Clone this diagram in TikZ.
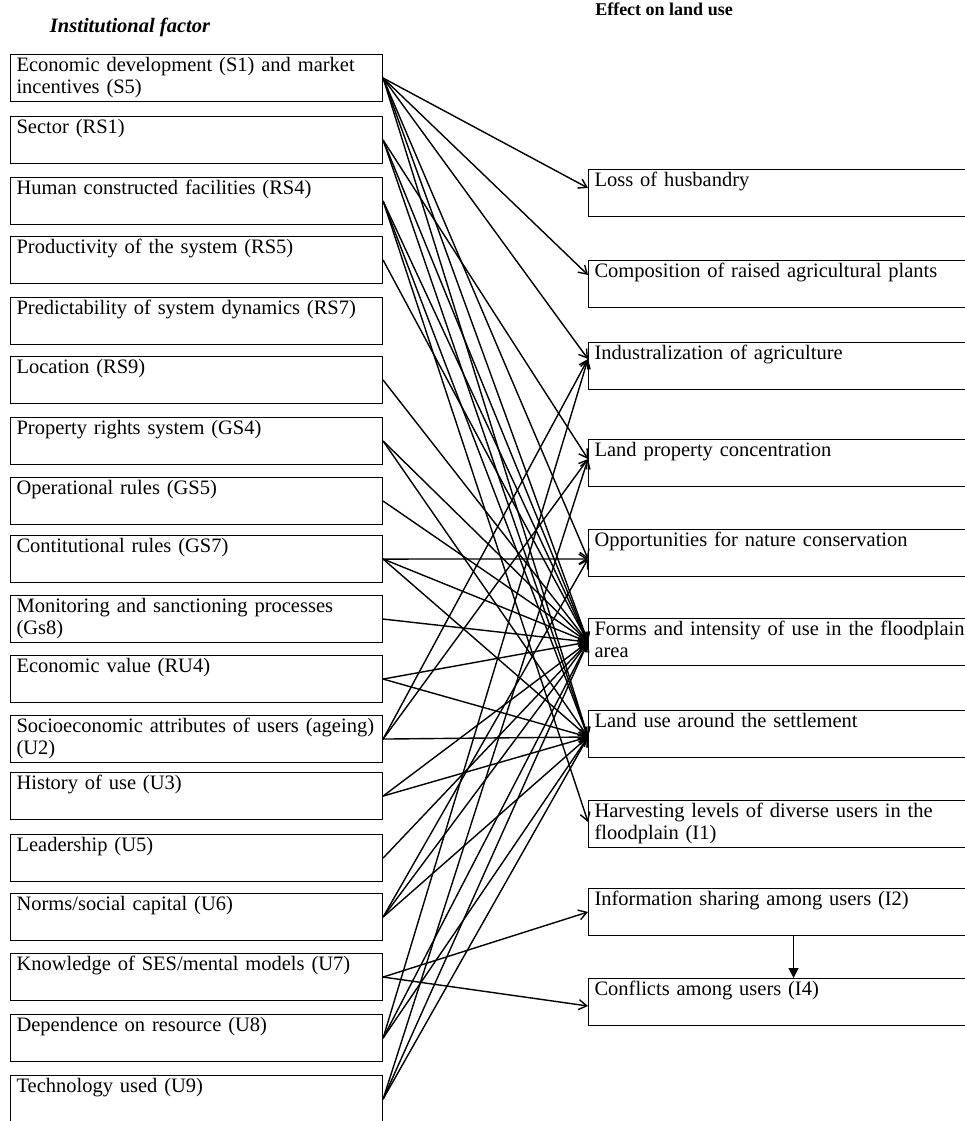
\documentclass[tikz,border=0pt]{standalone}
\usepackage{fontspec}
\setmainfont{Liberation Serif}
\usetikzlibrary{arrows.meta,calc,positioning}

\tikzset{
  factor/.style={draw, line width=1.1pt, anchor=north west, text width=360pt,
    inner xsep=6pt, inner ysep=1.5pt, align=left, font=\fontsize{20.5}{22}\selectfont},
  effect/.style={factor, text width=398pt},
  link/.style={line width=1.4pt, -{Straight Barb[length=8pt,width=10pt]}},
}
\newcommand{\boxtext}[2]{\strut #1\\\strut #2}

\begin{document}
\begin{tikzpicture}[x=1pt,y=-1pt]
    \useasboundingbox (0,0) rectangle (965,1121);
    % Headings
    \node[anchor=base, font=\fontsize{20.5}{22}\selectfont\bfseries\itshape] (hfactor) at (130,33) {Institutional factor};
    \node[anchor=base, font=\fontsize{18}{20}\selectfont\bfseries] (heffect) at (664,16) {Effect on land use};
    % Institutional factors
    \node[factor] (s1) at (10,54) {\boxtext{Economic development (S1) and market}{incentives (S5)}};
    \node[factor] (rs1) at (10,116) {\boxtext{Sector (RS1)}{}};
    \node[factor] (rs4) at (10,177) {\boxtext{Human constructed facilities (RS4)}{}};
    \node[factor] (rs5) at (10,236) {\boxtext{Productivity of the system (RS5)}{}};
    \node[factor] (rs7) at (10,297) {\boxtext{Predictability of system dynamics (RS7)}{}};
    \node[factor] (rs9) at (10,356) {\boxtext{Location (RS9)}{}};
    \node[factor] (gs4) at (10,417) {\boxtext{Property rights system (GS4)}{}};
    \node[factor] (gs5) at (10,477) {\boxtext{Operational rules (GS5)}{}};
    \node[factor] (gs7) at (10,535) {\boxtext{Contitutional rules (GS7)}{}};
    \node[factor] (gs8) at (10,595) {\boxtext{Monitoring and sanctioning processes}{(Gs8)}};
    \node[factor] (ru4) at (10,655) {\boxtext{Economic value (RU4)}{}};
    \node[factor] (u2) at (10,715) {\boxtext{Socioeconomic attributes of users (ageing)}{(U2)}};
    \node[factor] (u3) at (10,772) {\boxtext{History of use (U3)}{}};
    \node[factor] (u5) at (10,834) {\boxtext{Leadership (U5)}{}};
    \node[factor] (u6) at (10,893) {\boxtext{Norms/social capital (U6)}{}};
    \node[factor] (u7) at (10,953) {\boxtext{Knowledge of SES/mental models (U7)}{}};
    \node[factor] (u8) at (10,1014) {\boxtext{Dependence on resource (U8)}{}};
    \node[factor] (u9) at (10,1075) {\boxtext{Technology used (U9)}{}};
    % Effects on land use
    \node[effect] (loss) at (588,169) {\boxtext{Loss of husbandry}{}};
    \node[effect] (comp) at (588,260) {\boxtext{Composition of raised agricultural plants}{}};
    \node[effect] (indus) at (588,342) {\boxtext{Industralization of agriculture}{}};
    \node[effect] (prop) at (588,439) {\boxtext{Land property concentration}{}};
    \node[effect] (cons) at (588,529) {\boxtext{Opportunities for nature conservation}{}};
    \node[effect] (forms) at (588,618) {\boxtext{Forms and intensity of use in the floodplain}{area}};
    \node[effect] (settle) at (588,710) {\boxtext{Land use around the settlement}{}};
    \node[effect] (i1) at (588,800) {\boxtext{Harvesting levels of diverse users in the}{floodplain (I1)}};
    \node[effect] (i2) at (588,888) {\boxtext{Information sharing among users (I2)}{}};
    \node[effect] (i4) at (588,978) {\boxtext{Conflicts among users (I4)}{}};
    % Arrow ends
    \coordinate (loss-in) at ([yshift=-19pt]loss.north west);
    \coordinate (comp-in) at ([yshift=-15pt]comp.north west);
    \coordinate (indus-in) at ([yshift=-17pt]indus.north west);
    \coordinate (prop-in) at ([yshift=-20pt]prop.north west);
    \coordinate (cons-in) at ([yshift=-30pt]cons.north west);
    \coordinate (forms-in) at ([yshift=-24pt]forms.north west);
    \coordinate (settle-in) at ([yshift=-27pt]settle.north west);
    \coordinate (i1-in) at ([yshift=-22pt]i1.north west);
    \coordinate (i2-in) at ([yshift=-24pt]i2.north west);
    \coordinate (i4-in) at ([yshift=-28pt]i4.north west);
    % Links
    \path[link] (s1.east) edge (loss-in) edge (comp-in) edge (indus-in) edge (cons-in) edge (forms-in) edge (settle-in);
    \path[link] (rs1.east) edge (prop-in) edge (forms-in) edge (settle-in);
    \path[link] (rs4.east) edge (forms-in) edge (settle-in) edge (i1-in);
    \path[link] (rs5.east) edge (forms-in);
    \path[link] (rs9.east) edge (forms-in);
    \path[link] (gs4.east) edge (forms-in) edge (settle-in);
    \path[link] (gs5.east) edge (forms-in);
    \path[link] (gs7.east) edge (cons-in) edge (forms-in) edge (settle-in);
    \path[link] (gs8.east) edge (forms-in);
    \path[link] (ru4.east) edge (forms-in) edge (settle-in);
    \path[link] (u2.east) edge (indus-in) edge (prop-in) edge (settle-in);
    \path[link] (u3.east) edge (forms-in) edge (settle-in);
    \path[link] (u5.east) edge (forms-in);
    \path[link] (u6.east) edge (cons-in) edge (forms-in) edge (settle-in);
    \path[link] (u7.east) edge (i2-in) edge (i4-in);
    \path[link] (u8.east) edge (indus-in) edge (forms-in) edge (settle-in);
    \path[link] (u9.east) edge (prop-in) edge (forms-in) edge (settle-in);
    \draw[line width=1.4pt, -{Triangle[length=10pt,width=10pt]}] (i2.south) -- (i4.north);
\end{tikzpicture}
\end{document}
